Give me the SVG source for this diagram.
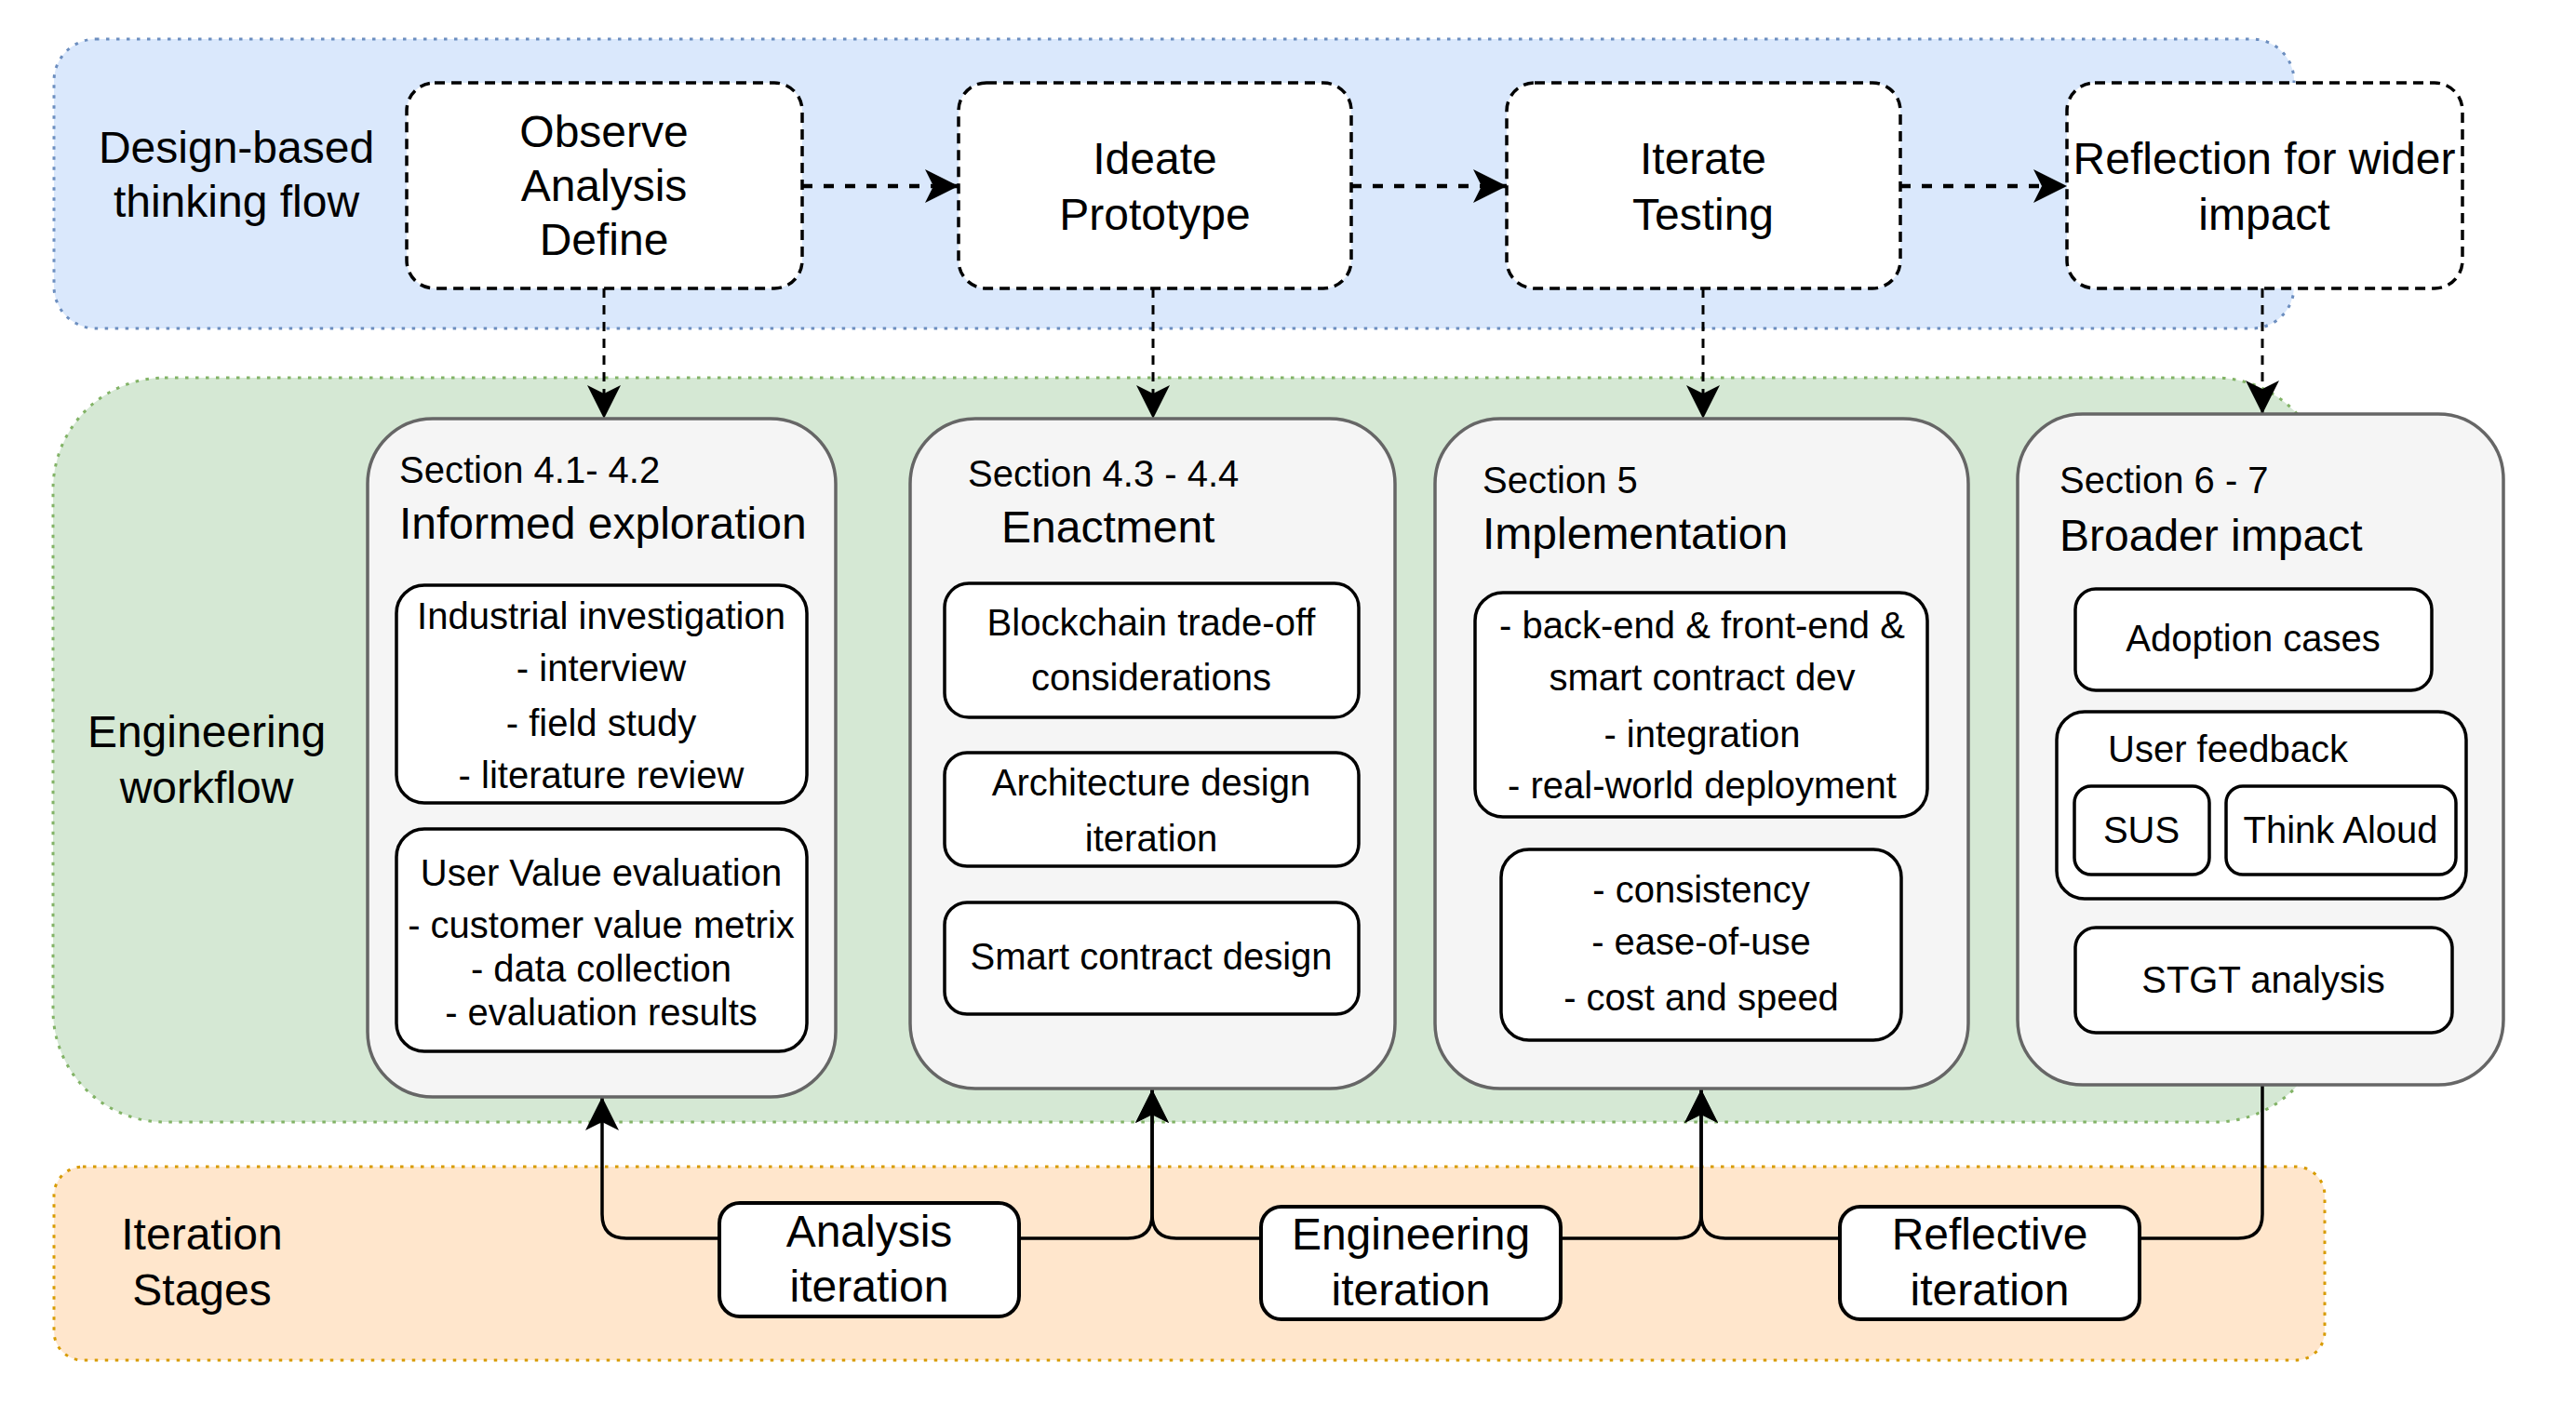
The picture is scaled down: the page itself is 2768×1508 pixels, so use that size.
<svg xmlns="http://www.w3.org/2000/svg" width="2768" height="1508" viewBox="0 0 2768 1508">
<style>
text{font-family:"Liberation Sans",Arial,Helvetica,sans-serif;fill:#000}
.t48{font-size:48px}
.t40{font-size:40px}
.c{text-anchor:middle}
.cont{stroke-width:3;stroke-dasharray:3.5 7.5}
.top{fill:#fff;stroke:#000;stroke-width:3.5;stroke-dasharray:11 7}
.sec{fill:#f5f5f5;stroke:#666;stroke-width:3.5}
.inn{fill:#fff;stroke:#000;stroke-width:3.5}
.it{fill:#fff;stroke:#000;stroke-width:4}
.flow{fill:none;stroke:#000;stroke-width:4.5;stroke-dasharray:11 12}
.down{fill:none;stroke:#000;stroke-width:3;stroke-dasharray:10 8}
.up{fill:none;stroke:#000;stroke-width:3.5}
</style>
<defs>
<marker id="arr" viewBox="-38 -20 40 40" refX="0" refY="0" markerWidth="40" markerHeight="40" orient="auto" markerUnits="userSpaceOnUse">
<path d="M0,0 L-36,-18 L-27,0 L-36,18 Z" fill="#000"/>
</marker>
</defs>

<g id="containers">
<rect id="design-flow" x="58" y="42" width="2407" height="311" rx="45" fill="#dae8fc" stroke="#6c8ebf" class="cont"/>
<rect id="engineering-workflow" x="57" y="406" width="2443" height="800" rx="120" fill="#d5e8d4" stroke="#82b366" class="cont"/>
<rect id="iteration-stages" x="58" y="1254" width="2440" height="208" rx="31" fill="#ffe6cc" stroke="#d79b00" class="cont"/>
<text class="t48 c" x="254" y="175">Design-based</text>
<text class="t48 c" x="254" y="233">thinking flow</text>
<text class="t48 c" x="222" y="803">Engineering</text>
<text class="t48 c" x="222" y="863">workflow</text>
<text class="t48 c" x="217" y="1343">Iteration</text>
<text class="t48 c" x="217" y="1403">Stages</text>
</g>

<g id="connectors">
<line class="flow" x1="862" y1="200" x2="1030" y2="200" marker-end="url(#arr)"/>
<line class="flow" x1="1452" y1="200" x2="1619" y2="200" marker-end="url(#arr)"/>
<line class="flow" x1="2042" y1="200" x2="2221" y2="200" marker-end="url(#arr)"/>
<line class="down" x1="649" y1="310" x2="649" y2="450" marker-end="url(#arr)"/>
<line class="down" x1="1239" y1="310" x2="1239" y2="450" marker-end="url(#arr)"/>
<line class="down" x1="1830" y1="310" x2="1830" y2="450" marker-end="url(#arr)"/>
<line class="down" x1="2431" y1="310" x2="2431" y2="445" marker-end="url(#arr)"/>
<path class="up" d="M773,1331 H673 Q647,1331 647,1305 V1179" marker-end="url(#arr)"/>
<path class="up" d="M1095,1331 H1212 Q1238,1331 1238,1305 V1171" marker-end="url(#arr)"/>
<path class="up" d="M1355,1331 H1264 Q1238,1331 1238,1305 V1171" marker-end="url(#arr)"/>
<path class="up" d="M1677,1331 H1802 Q1828,1331 1828,1305 V1171" marker-end="url(#arr)"/>
<path class="up" d="M1977,1331 H1854 Q1828,1331 1828,1305 V1171" marker-end="url(#arr)"/>
<path class="up" d="M2299,1331 H2405 Q2431,1331 2431,1305 V1166"/>
</g>

<g id="observe">
<rect class="top" x="437" y="89" width="425" height="221" rx="30"/>
<text class="t48 c" x="649" y="158">Observe</text>
<text class="t48 c" x="649" y="216">Analysis</text>
<text class="t48 c" x="649" y="274">Define</text>
</g>
<g id="ideate">
<rect class="top" x="1030" y="89" width="422" height="221" rx="30"/>
<text class="t48 c" x="1241" y="187">Ideate</text>
<text class="t48 c" x="1241" y="247">Prototype</text>
</g>
<g id="iterate">
<rect class="top" x="1619" y="89" width="423" height="221" rx="30"/>
<text class="t48 c" x="1830" y="187">Iterate</text>
<text class="t48 c" x="1830" y="247">Testing</text>
</g>
<g id="reflection">
<rect class="top" x="2221" y="89" width="425" height="221" rx="30"/>
<text class="t48 c" x="2433" y="187">Reflection for wider</text>
<text class="t48 c" x="2433" y="247">impact</text>
</g>

<g id="informed-exploration">
<rect class="sec" x="395" y="450" width="503" height="729" rx="70"/>
<text class="t40" x="429" y="519">Section 4.1- 4.2</text>
<text class="t48" x="429" y="579">Informed exploration</text>
<rect class="inn" x="426" y="629" width="441" height="234" rx="30"/>
<text class="t40 c" x="646" y="676">Industrial investigation</text>
<text class="t40 c" x="646" y="732">- interview</text>
<text class="t40 c" x="646" y="791">- field study</text>
<text class="t40 c" x="646" y="847">- literature review</text>
<rect class="inn" x="426" y="891" width="441" height="239" rx="30"/>
<text class="t40 c" x="646" y="952">User Value evaluation</text>
<text class="t40 c" x="646" y="1008">- customer value metrix</text>
<text class="t40 c" x="646" y="1055">- data collection</text>
<text class="t40 c" x="646" y="1102">- evaluation results</text>
</g>

<g id="enactment">
<rect class="sec" x="978" y="450" width="521" height="720" rx="70"/>
<text class="t40" x="1040" y="523">Section 4.3 - 4.4</text>
<text class="t48" x="1076" y="583">Enactment</text>
<rect class="inn" x="1015" y="627" width="445" height="144" rx="26"/>
<text class="t40 c" x="1237" y="683">Blockchain trade-off</text>
<text class="t40 c" x="1237" y="742">considerations</text>
<rect class="inn" x="1015" y="809" width="445" height="122" rx="24"/>
<text class="t40 c" x="1237" y="855">Architecture design</text>
<text class="t40 c" x="1237" y="915">iteration</text>
<rect class="inn" x="1015" y="970" width="445" height="120" rx="24"/>
<text class="t40 c" x="1237" y="1042">Smart contract design</text>
</g>

<g id="implementation">
<rect class="sec" x="1542" y="450" width="573" height="720" rx="70"/>
<text class="t40" x="1593" y="530">Section 5</text>
<text class="t48" x="1593" y="590">Implementation</text>
<rect class="inn" x="1585" y="637" width="486" height="241" rx="30"/>
<text class="t40 c" x="1829" y="686">- back-end &amp; front-end &amp;</text>
<text class="t40 c" x="1829" y="742">smart contract dev</text>
<text class="t40 c" x="1829" y="803">- integration</text>
<text class="t40 c" x="1829" y="858">- real-world deployment</text>
<rect class="inn" x="1613" y="913" width="430" height="205" rx="30"/>
<text class="t40 c" x="1828" y="970">- consistency</text>
<text class="t40 c" x="1828" y="1026">- ease-of-use</text>
<text class="t40 c" x="1828" y="1086">- cost and speed</text>
</g>

<g id="broader-impact">
<rect class="sec" x="2168" y="445" width="522" height="721" rx="70"/>
<text class="t40" x="2213" y="530">Section 6 - 7</text>
<text class="t48" x="2213" y="592">Broader impact</text>
<rect class="inn" x="2230" y="633" width="383" height="109" rx="22"/>
<text class="t40 c" x="2421" y="700">Adoption cases</text>
<rect class="inn" x="2210" y="765" width="440" height="201" rx="30"/>
<text class="t40" x="2265" y="819">User feedback</text>
<rect class="inn" x="2229" y="845" width="145" height="95" rx="18"/>
<text class="t40 c" x="2301" y="906">SUS</text>
<rect class="inn" x="2392" y="845" width="247" height="95" rx="18"/>
<text class="t40 c" x="2515" y="906">Think Aloud</text>
<rect class="inn" x="2230" y="997" width="405" height="113" rx="22"/>
<text class="t40 c" x="2432" y="1067">STGT analysis</text>
</g>

<g id="analysis-iteration">
<rect class="it" x="773" y="1293" width="322" height="122" rx="22"/>
<text class="t48 c" x="934" y="1340">Analysis</text>
<text class="t48 c" x="934" y="1399">iteration</text>
</g>
<g id="engineering-iteration">
<rect class="it" x="1355" y="1297" width="322" height="121" rx="22"/>
<text class="t48 c" x="1516" y="1343">Engineering</text>
<text class="t48 c" x="1516" y="1403">iteration</text>
</g>
<g id="reflective-iteration">
<rect class="it" x="1977" y="1297" width="322" height="121" rx="22"/>
<text class="t48 c" x="2138" y="1343">Reflective</text>
<text class="t48 c" x="2138" y="1403">iteration</text>
</g>
</svg>
